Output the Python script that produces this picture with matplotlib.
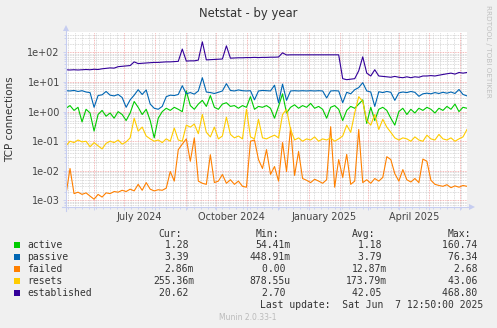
import pandas as pd
import matplotlib
matplotlib.use('Agg')
import matplotlib.pyplot as plt
import matplotlib.dates as mdates
from matplotlib.ticker import LogLocator, FuncFormatter, NullFormatter
from matplotlib.lines import Line2D
from matplotlib.patches import Polygon, Rectangle

# ------------------------------------------------------------
# Data: 4-day samples, May 2024 -> June 2025
# ------------------------------------------------------------
start_date = '2024-05-04'
step = '4D'

active = [
    1.3, 1.6, 1.1, 1.4, 0.45, 1.2, 0.9, 0.22, 0.8, 1.1,
    0.7, 0.9, 0.6, 1.0, 0.8, 0.5, 0.9, 2.2, 1.4, 0.8,
    1.2, 0.5, 0.13, 0.6, 1.0, 1.3, 1.1, 1.4, 1.2, 1.0,
    5.0, 1.6, 1.2, 1.8, 2.4, 1.5, 3.5, 1.4, 1.2, 1.8,
    2.0, 1.5, 1.6, 1.3, 1.6, 1.4, 3.2, 1.2, 1.5, 1.4,
    1.6, 1.3, 0.6, 1.5, 4.0, 0.9, 1.4, 1.7, 1.3, 1.6,
    1.4, 1.9, 1.3, 1.5, 1.2, 0.6, 1.4, 1.6, 1.2, 0.5,
    1.1, 1.5, 1.3, 1.8, 2.5, 0.4, 1.4, 0.5, 1.2, 1.4,
    1.1, 0.6, 0.35, 1.0, 1.3, 0.8, 1.2, 0.9, 1.3, 1.1,
    1.4, 1.2, 0.9, 1.3, 1.1, 1.5, 1.2, 1.8, 1.0, 1.4,
    1.3,
]

passive = [
    5.1, 5.0, 5.2, 4.8, 5.1, 4.6, 4.4, 1.4, 3.5, 3.7,
    4.8, 3.6, 3.4, 3.8, 3.0, 1.4, 2.5, 3.6, 5.5, 3.8,
    5.4, 1.8, 1.3, 1.2, 1.5, 3.2, 3.6, 3.5, 3.8, 7.5,
    4.0, 4.4, 3.9, 5.0, 14.0, 4.6, 4.4, 4.1, 4.5, 5.0,
    8.8, 5.2, 5.0, 5.4, 5.1, 5.0, 5.1, 2.5, 5.0, 5.2,
    5.1, 5.0, 7.8, 2.0, 8.5, 2.4, 5.0, 5.1, 5.0, 5.1,
    5.0, 5.1, 5.0, 5.1, 5.0, 2.9, 5.0, 5.1, 5.0, 2.0,
    4.5, 4.0, 5.5, 6.5, 9.5, 5.0, 4.6, 1.5, 4.7, 4.4,
    4.8, 4.5, 2.4, 4.3, 4.6, 4.4, 4.8, 4.5, 3.3, 4.0,
    4.2, 4.0, 4.4, 4.1, 4.5, 4.2, 4.6, 4.1, 5.6, 3.8,
    3.4,
]

failed = [
    0.0016, 0.012, 0.0017, 0.0019, 0.0016, 0.0018, 0.0014, 0.0011, 0.0016, 0.0013,
    0.0018, 0.0017, 0.0020, 0.0019, 0.0022, 0.0020, 0.0024, 0.0021, 0.0035, 0.0022,
    0.0040, 0.0024, 0.0021, 0.0023, 0.0022, 0.0026, 0.0095, 0.0045, 0.052, 0.08,
    0.12, 0.021, 0.13, 0.0045, 0.0038, 0.0035, 0.035, 0.0040, 0.0045, 0.0075,
    0.0038, 0.0050, 0.0035, 0.0045, 0.0030, 0.0028, 0.10, 0.11, 0.024, 0.012,
    0.052, 0.0076, 0.014, 0.0045, 0.09, 0.0095, 0.29, 0.0070, 0.045, 0.0055,
    0.0048, 0.0040, 0.0052, 0.0045, 0.0038, 0.0050, 0.31, 0.0028, 0.024, 0.0060,
    0.036, 0.0035, 0.0045, 0.25, 0.0040, 0.0050, 0.0038, 0.0055, 0.0045, 0.0060,
    0.030, 0.024, 0.0080, 0.0045, 0.011, 0.0050, 0.0042, 0.0055, 0.0040, 0.025,
    0.021, 0.0048, 0.0035, 0.0032, 0.0030, 0.0034, 0.0027, 0.0031, 0.0028, 0.0032,
    0.0030,
]

resets = [
    0.07, 0.10, 0.09, 0.11, 0.095, 0.10, 0.065, 0.09, 0.07, 0.055,
    0.085, 0.10, 0.09, 0.11, 0.08, 0.095, 0.13, 0.6, 0.22, 0.30,
    0.15, 0.12, 0.10, 0.11, 0.09, 0.12, 0.10, 0.28, 0.11, 0.10,
    0.35, 0.30, 0.38, 0.18, 0.8, 0.20, 0.14, 0.30, 0.12, 0.15,
    0.65, 0.17, 0.13, 0.15, 0.12, 1.2, 0.14, 0.12, 0.55, 0.13,
    0.12, 0.14, 0.16, 0.13, 0.8, 1.2, 0.25, 0.11, 0.13, 0.10,
    0.12, 0.11, 0.14, 0.10, 0.12, 0.11, 0.13, 0.10, 0.12, 0.15,
    0.35, 0.2, 0.9, 3.2, 2.2, 0.5, 0.35, 0.8, 0.25, 0.55,
    0.30, 0.20, 0.13, 0.11, 0.13, 0.12, 0.10, 0.14, 0.11, 0.10,
    0.16, 0.12, 0.11, 0.17, 0.12, 0.11, 0.13, 0.10, 0.12, 0.14,
    0.25,
]

established = [
    26, 25.5, 26, 25.5, 26, 26.5, 26, 27, 26.5, 28,
    29, 30, 29.5, 33, 34, 35, 36, 48, 42, 43,
    44, 45, 46, 46, 47, 48, 48, 49, 50, 130,
    51, 52, 52, 55, 228, 56, 57, 58, 59, 60,
    167, 64, 65, 66, 66, 67, 67, 68, 67, 68,
    68, 69, 69, 70, 97, 82, 83, 83, 83, 83,
    83, 83, 83, 83, 83, 83, 83, 83, 83, 13,
    12, 12.5, 13, 24, 71, 20, 16, 26, 16, 15.5,
    15, 14.5, 15.5, 14.5, 14, 15, 14, 15, 14.5, 16,
    16, 16.5, 16, 17, 18, 19, 20, 18.5, 21, 20,
    21,
]

series_names = ['active', 'passive', 'failed', 'resets', 'established']
series_colors = ['#00cc00', '#0066b3', '#ff8000', '#ffcc00', '#330099']
series_values = [active, passive, failed, resets, established]

# legend statistics as printed by munin
stat_cur = ['1.28 ', '3.39 ', '2.86m', '255.36m', '20.62 ']
stat_min = ['54.41m', '448.91m', '0.00 ', '878.55u', '2.70 ']
stat_avg = ['1.18 ', '3.79 ', '12.87m', '173.79m', '42.05 ']
stat_max = ['160.74 ', '76.34 ', '2.68 ', '43.06 ', '468.80 ']

month_labels = ['July 2024', 'October 2024', 'January 2025', 'April 2025']
month_label_dates = ['2024-07-16', '2024-10-16', '2025-01-16', '2025-04-16']

# ------------------------------------------------------------
# Figure in pixel coordinates (497 x 328)
# ------------------------------------------------------------
W, H = 497, 328
BG = '#f0f0f0'
AXIS = '#c6cdf0'
TXT = '#333333'


def fx(px):
    return px / W


def fy(py):
    return 1 - py / H


fig = plt.figure(figsize=(W / 100, H / 100), dpi=100, facecolor=BG)
L, R, T, B = 66, 467, 32, 207
ax = fig.add_axes([fx(L), fy(B), fx(R) - fx(L), fy(T) - fy(B)])
ax.set_facecolor('white')

dates = pd.date_range(start_date, periods=len(established), freq=step)
for name, color, vals in zip(series_names, series_colors, series_values):
    ax.plot(dates, vals, color=color, lw=0.8, label=name)

ax.set_yscale('log')
ax.set_ylim(6.0e-4, 490)
ax.set_xlim(pd.Timestamp('2024-05-04'), pd.Timestamp('2025-06-08'))

ax.yaxis.set_major_locator(LogLocator(base=10, numticks=12))
ax.yaxis.set_minor_locator(LogLocator(base=10, subs=range(2, 10), numticks=12))
ax.yaxis.set_major_formatter(FuncFormatter(lambda v, p: f'{v:.0e}'))
ax.yaxis.set_minor_formatter(NullFormatter())

ax.xaxis.set_major_locator(mdates.MonthLocator())
ax.xaxis.set_minor_locator(mdates.WeekdayLocator(byweekday=mdates.MO))
ax.xaxis.set_major_formatter(NullFormatter())

ax.set_axisbelow(True)
dots = (0, (1, 1))
ax.grid(which='minor', color='#cfcfcf', ls=dots, lw=0.6)
ax.grid(which='major', color='#f2a0a0', ls=dots, lw=0.6)

ax.tick_params(which='both', length=2.2, width=0.6, color=AXIS,
               labelsize=7, labelcolor='#444444', pad=2.2)
ax.tick_params(which='minor', length=1.5)
for s in ax.spines.values():
    s.set_visible(False)

for lab, d in zip(month_labels, month_label_dates):
    ax.text(pd.Timestamp(d), -0.057, lab, transform=ax.get_xaxis_transform(),
            ha='center', va='center', fontsize=7, color='#444444')

# axis lines with arrow heads
fig.add_artist(Line2D([fx(L), fx(L)], [fy(211), fy(30)], color=AXIS, lw=0.8))
fig.add_artist(Line2D([fx(62), fx(470)], [fy(B), fy(B)], color=AXIS, lw=0.8))
fig.add_artist(Polygon([(fx(63), fy(31)), (fx(69), fy(31)), (fx(66), fy(25))],
                       closed=True, color=AXIS, lw=0))
fig.add_artist(Polygon([(fx(469), fy(204)), (fx(469), fy(210)), (fx(475), fy(207))],
                       closed=True, color=AXIS, lw=0))

# titles and side texts
fig.text(fx(248), fy(13), 'Netstat - by year', ha='center', va='center',
         fontsize=8.4, color=TXT)
fig.text(fx(10.5), fy(119), 'TCP connections', rotation=90, ha='center',
         va='center', fontsize=7.5, color=TXT)
fig.text(fx(488), fy(51), 'RRDTOOL / TOBI OETIKER', rotation=270, ha='center',
         va='center', fontsize=5.2, color='#c0c0c0')

# legend block
mono = 'DejaVu Sans Mono'
fs = 7
head_y = 234
for lab, x in zip(['Cur:', 'Min:', 'Avg:', 'Max:'], [158, 256, 352, 448]):
    fig.text(fx(x), fy(head_y), lab, family=mono, fontsize=fs, color=TXT,
             ha='left', va='center')

col_right = [194, 291, 387, 483]
for i, name in enumerate(series_names):
    y = 245 + 12 * i
    fig.add_artist(Rectangle((fx(14), fy(y + 3)), fx(6), 6 / H,
                             color=series_colors[i], lw=0))
    fig.text(fx(27), fy(y), name, family=mono, fontsize=fs, color=TXT,
             ha='left', va='center')
    for vals, xr in zip([stat_cur, stat_min, stat_avg, stat_max], col_right):
        fig.text(fx(xr), fy(y), vals[i], family=mono, fontsize=fs, color=TXT,
                 ha='right', va='center')

fig.text(fx(483), fy(305), 'Last update:  Sat Jun  7 12:50:00 2025', family=mono,
         fontsize=fs, color=TXT, ha='right', va='center')
fig.text(fx(248), fy(317), 'Munin 2.0.33-1', ha='center', va='center',
         fontsize=5.5, color='#bbbbbb')

fig.savefig('out.png', dpi=100, facecolor=BG)
